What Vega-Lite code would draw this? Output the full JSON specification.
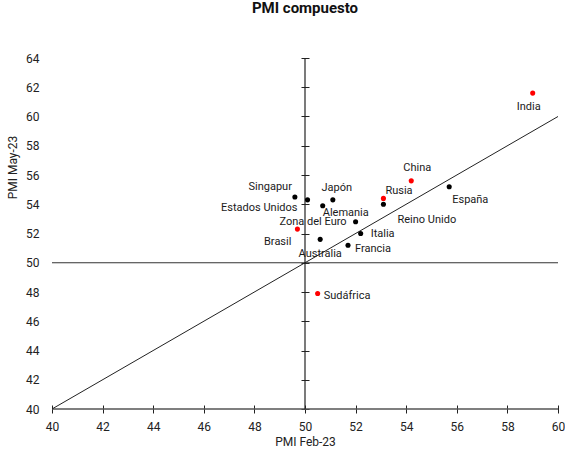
{
  "$schema": "https://vega.github.io/schema/vega-lite/v6.json",
  "width": 506,
  "height": 351,
  "autosize": {"type": "none"},
  "padding": {"left": 52, "top": 58, "right": 7, "bottom": 43},
  "background": "white",
  "config": {
    "font": "Roboto",
    "view": {"stroke": null},
    "axis": {"grid": false, "labelFont": "Roboto", "titleFont": "Roboto", "labelFontSize": 12, "titleFontSize": 12, "titleFontWeight": "normal", "labelColor": "#222", "titleColor": "#222", "tickColor": "#222", "tickWidth": 1, "labelOverlap": false},
    "axisX": {"title": "PMI Feb-23", "values": [40, 42, 44, 46, 48, 50, 52, 54, 56, 58, 60], "offset": -4, "tickSize": 8, "domain": false, "labelPadding": 8, "titlePadding": 4, "labelFlush": false, "labelOverlap": false},
    "axisY": {"values": [40, 42, 44, 46, 48, 50, 52, 54, 56, 58, 60, 62, 64], "tickCount": 13, "offset": -257, "tickSize": 8, "domain": false, "labelPadding": 262, "labelFlush": false, "labelOverlap": false, "labelBound": false, "titleX": -297, "titleY": 109, "titleAngle": -90, "titleAlign": "center", "titleBaseline": "middle"},
    "text": {"font": "Roboto", "fontSize": 11, "color": "#1a1a1a", "baseline": "middle"}
  },
  "title": {"text": "PMI compuesto", "font": "Roboto", "fontSize": 15, "fontWeight": "bold", "color": "#111", "frame": "group", "offset": 36, "anchor": "middle"},
  "datasets": {
    "paises": [
      {"pais": "Singapur", "feb": 49.6, "may": 54.5, "grupo": "Otros"},
      {"pais": "Estados Unidos", "feb": 50.1, "may": 54.3, "grupo": "Otros"},
      {"pais": "Japón", "feb": 51.1, "may": 54.3, "grupo": "Otros"},
      {"pais": "Alemania", "feb": 50.7, "may": 53.9, "grupo": "Otros"},
      {"pais": "Zona del Euro", "feb": 52.0, "may": 52.8, "grupo": "Otros"},
      {"pais": "Italia", "feb": 52.2, "may": 52.0, "grupo": "Otros"},
      {"pais": "Francia", "feb": 51.7, "may": 51.2, "grupo": "Otros"},
      {"pais": "Australia", "feb": 50.6, "may": 51.6, "grupo": "Otros"},
      {"pais": "Reino Unido", "feb": 53.1, "may": 54.0, "grupo": "Otros"},
      {"pais": "España", "feb": 55.7, "may": 55.2, "grupo": "Otros"},
      {"pais": "Brasil", "feb": 49.7, "may": 52.3, "grupo": "BRICS"},
      {"pais": "Sudáfrica", "feb": 50.5, "may": 47.9, "grupo": "BRICS"},
      {"pais": "Rusia", "feb": 53.1, "may": 54.4, "grupo": "BRICS"},
      {"pais": "China", "feb": 54.2, "may": 55.6, "grupo": "BRICS"},
      {"pais": "India", "feb": 59.0, "may": 61.6, "grupo": "BRICS"}
    ],
    "diag": [{"feb": 40, "may": 40}, {"feb": 60, "may": 60}],
    "horiz": [{"may": 50}],
    "base": [{"may": 40}],
    "vert": [{"feb": 50}]
  },
  "layer": [
    {
      "data": {"name": "horiz"},
      "mark": {"type": "rule", "color": "#333", "strokeWidth": 1.2},
      "encoding": {"y": {"field": "may", "type": "quantitative", "title": "PMI May-23", "scale": {"domain": [40, 64], "nice": false, "zero": false}}}
    },
    {
      "data": {"name": "base"},
      "mark": {"type": "rule", "color": "#555", "strokeWidth": 1.5},
      "encoding": {"y": {"field": "may", "type": "quantitative", "title": "PMI May-23", "scale": {"domain": [40, 64], "nice": false, "zero": false}}}
    },
    {
      "data": {"name": "vert"},
      "mark": {"type": "rule", "color": "#222", "strokeWidth": 1.2},
      "encoding": {"x": {"field": "feb", "type": "quantitative", "title": "PMI Feb-23", "scale": {"domain": [40, 60], "nice": false, "zero": false}}}
    },
    {
      "data": {"name": "diag"},
      "mark": {"type": "line", "color": "#222", "strokeWidth": 1},
      "encoding": {
        "x": {"field": "feb", "type": "quantitative", "title": "PMI Feb-23", "scale": {"domain": [40, 60], "nice": false, "zero": false}},
        "y": {"field": "may", "type": "quantitative", "title": "PMI May-23", "scale": {"domain": [40, 64], "nice": false, "zero": false}}
      }
    },
    {
      "data": {"name": "paises"},
      "mark": {"type": "circle", "size": 26, "opacity": 1},
      "encoding": {
        "x": {"field": "feb", "type": "quantitative", "title": "PMI Feb-23", "scale": {"domain": [40, 60], "nice": false, "zero": false}},
        "y": {"field": "may", "type": "quantitative", "title": "PMI May-23", "scale": {"domain": [40, 64], "nice": false, "zero": false}},
        "color": {"field": "grupo", "type": "nominal", "scale": {"domain": ["BRICS", "Otros"], "range": ["#ff0000", "#000000"]}, "legend": null}
      }
    },
    {"data": {"name": "paises"}, "transform": [{"filter": "datum.pais === 'Singapur'"}], "mark": {"type": "text", "align": "right", "dx": -3, "dy": -10}, "encoding": {"x": {"field": "feb", "type": "quantitative"}, "y": {"field": "may", "type": "quantitative"}, "text": {"field": "pais"}}},
    {"data": {"name": "paises"}, "transform": [{"filter": "datum.pais === 'Estados Unidos'"}], "mark": {"type": "text", "align": "right", "dx": -10, "dy": 8}, "encoding": {"x": {"field": "feb", "type": "quantitative"}, "y": {"field": "may", "type": "quantitative"}, "text": {"field": "pais"}}},
    {"data": {"name": "paises"}, "transform": [{"filter": "datum.pais === 'Japón'"}], "mark": {"type": "text", "align": "center", "dx": 4, "dy": -12}, "encoding": {"x": {"field": "feb", "type": "quantitative"}, "y": {"field": "may", "type": "quantitative"}, "text": {"field": "pais"}}},
    {"data": {"name": "paises"}, "transform": [{"filter": "datum.pais === 'Alemania'"}], "mark": {"type": "text", "align": "left", "dx": 0, "dy": 7}, "encoding": {"x": {"field": "feb", "type": "quantitative"}, "y": {"field": "may", "type": "quantitative"}, "text": {"field": "pais"}}},
    {"data": {"name": "paises"}, "transform": [{"filter": "datum.pais === 'Zona del Euro'"}], "mark": {"type": "text", "align": "right", "dx": -9, "dy": 0}, "encoding": {"x": {"field": "feb", "type": "quantitative"}, "y": {"field": "may", "type": "quantitative"}, "text": {"field": "pais"}}},
    {"data": {"name": "paises"}, "transform": [{"filter": "datum.pais === 'Italia'"}], "mark": {"type": "text", "align": "left", "dx": 10, "dy": 0}, "encoding": {"x": {"field": "feb", "type": "quantitative"}, "y": {"field": "may", "type": "quantitative"}, "text": {"field": "pais"}}},
    {"data": {"name": "paises"}, "transform": [{"filter": "datum.pais === 'Francia'"}], "mark": {"type": "text", "align": "left", "dx": 7, "dy": 4}, "encoding": {"x": {"field": "feb", "type": "quantitative"}, "y": {"field": "may", "type": "quantitative"}, "text": {"field": "pais"}}},
    {"data": {"name": "paises"}, "transform": [{"filter": "datum.pais === 'Australia'"}], "mark": {"type": "text", "align": "center", "dx": 0, "dy": 15}, "encoding": {"x": {"field": "feb", "type": "quantitative"}, "y": {"field": "may", "type": "quantitative"}, "text": {"field": "pais"}}},
    {"data": {"name": "paises"}, "transform": [{"filter": "datum.pais === 'Reino Unido'"}], "mark": {"type": "text", "align": "left", "dx": 14, "dy": 16}, "encoding": {"x": {"field": "feb", "type": "quantitative"}, "y": {"field": "may", "type": "quantitative"}, "text": {"field": "pais"}}},
    {"data": {"name": "paises"}, "transform": [{"filter": "datum.pais === 'España'"}], "mark": {"type": "text", "align": "left", "dx": 3, "dy": 13}, "encoding": {"x": {"field": "feb", "type": "quantitative"}, "y": {"field": "may", "type": "quantitative"}, "text": {"field": "pais"}}},
    {"data": {"name": "paises"}, "transform": [{"filter": "datum.pais === 'Brasil'"}], "mark": {"type": "text", "align": "right", "dx": -6, "dy": 13}, "encoding": {"x": {"field": "feb", "type": "quantitative"}, "y": {"field": "may", "type": "quantitative"}, "text": {"field": "pais"}}},
    {"data": {"name": "paises"}, "transform": [{"filter": "datum.pais === 'Sudáfrica'"}], "mark": {"type": "text", "align": "left", "dx": 6, "dy": 3}, "encoding": {"x": {"field": "feb", "type": "quantitative"}, "y": {"field": "may", "type": "quantitative"}, "text": {"field": "pais"}}},
    {"data": {"name": "paises"}, "transform": [{"filter": "datum.pais === 'Rusia'"}], "mark": {"type": "text", "align": "left", "dx": 2, "dy": -7}, "encoding": {"x": {"field": "feb", "type": "quantitative"}, "y": {"field": "may", "type": "quantitative"}, "text": {"field": "pais"}}},
    {"data": {"name": "paises"}, "transform": [{"filter": "datum.pais === 'China'"}], "mark": {"type": "text", "align": "center", "dx": 6, "dy": -13}, "encoding": {"x": {"field": "feb", "type": "quantitative"}, "y": {"field": "may", "type": "quantitative"}, "text": {"field": "pais"}}},
    {"data": {"name": "paises"}, "transform": [{"filter": "datum.pais === 'India'"}], "mark": {"type": "text", "align": "center", "dx": -4, "dy": 14}, "encoding": {"x": {"field": "feb", "type": "quantitative"}, "y": {"field": "may", "type": "quantitative"}, "text": {"field": "pais"}}}
  ]
}
